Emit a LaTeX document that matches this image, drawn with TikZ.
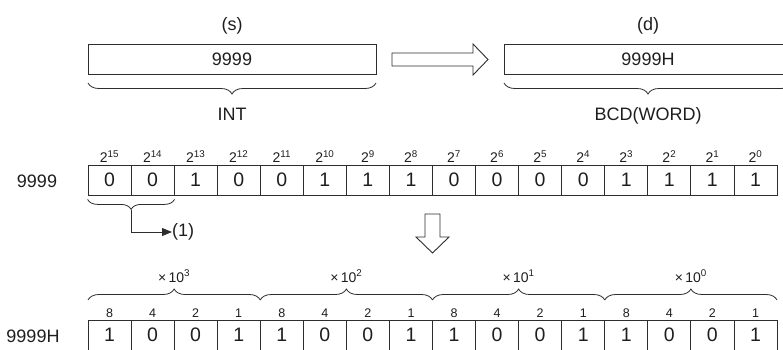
\documentclass[tikz,border=0pt]{standalone}
\usepackage{fontspec}
\setmainfont{Liberation Sans}
\usetikzlibrary{arrows.meta,calc,positioning,decorations.pathreplacing}
\definecolor{lineDark}{HTML}{2D2D2D}
\definecolor{textDark}{HTML}{1E1E1E}
\tikzset{
  bitCell/.style={draw=lineDark,line width=0.8pt,minimum width=43.06pt,minimum height=30pt,inner sep=0pt,font=\fontsize{19.5}{20}\selectfont,text=textDark},
  regBox/.style={draw=lineDark,line width=1pt,minimum width=288pt,minimum height=30pt,inner sep=0pt,font=\fontsize{18}{20}\selectfont,text=textDark},
  bigText/.style={inner sep=0pt,font=\fontsize{18}{20}\selectfont,text=textDark},
  weightText/.style={inner sep=0pt,anchor=base,font=\fontsize{14}{14}\selectfont,text=textDark},
  smallText/.style={inner sep=0pt,anchor=base,font=\fontsize{12.5}{13}\selectfont,text=textDark},
  curly/.style={decorate,decoration={brace,amplitude=#1},draw=lineDark,line width=0.8pt},
  hollow/.style={draw=lineDark,line width=0.9pt,fill=white}
}
\begin{document}
\begin{tikzpicture}[x=1pt,y=-1pt]
\useasboundingbox (0,0) rectangle (783,349);
% source and destination
\node[regBox] (sBox) at (232,59) {9999};
\node[regBox] (dBox) at (648,59) {9999H};
\node[bigText,anchor=base] (sLabel) at (232,30) {(s)};
\node[bigText,anchor=base] (dLabel) at (648,30) {(d)};
\draw[curly=11pt,decoration={mirror}] (88,83) -- (376,83);
\draw[curly=11pt,decoration={mirror}] (504,83) -- (792,83);
\node[bigText,anchor=base] (intLabel) at (232,120) {INT};
\node[bigText,anchor=base] (bcdLabel) at (648,120) {BCD(WORD)};
\draw[hollow] (392,53) -- (473,53) -- (473,44) -- (488,59.5) -- (473,75) -- (473,66) -- (392,66) -- cycle;
% binary row
\node[bigText,anchor=base] (binName) at (37,187) {9999};
\foreach \v [count=\i from 0] in {0,0,1,0,0,1,1,1,0,0,0,0,1,1,1,1}{
  \node[bitCell] (b\i) at ({88+43.0625*(\i+0.5)},180) {\v};
  \pgfmathtruncatemacro{\ex}{15-\i}
  \node[weightText] (w\i) at ($(b\i.north)+(0,-2)$) {2\textsuperscript{\ex}};
}
\draw[curly=10pt,decoration={mirror}] ($(b0.south west)+(0,4)$) -- ($(b1.south east)+(0,4)$);
\coordinate (tipOne) at ($(b0.south west)!0.5!(b1.south east)+(0,15)$);
\node[bigText,anchor=west] (one) at (172,232) {(1)};
\draw[lineDark,line width=0.8pt,-{Triangle[length=10pt,width=8pt]}] (tipOne) |- (one.west);
\draw[hollow] (425,214) -- (440,214) -- (440,237) -- (449,237) -- (432.5,253) -- (416,237) -- (425,237) -- cycle;
% BCD row
\node[bigText,anchor=base] (bcdName) at (33,342) {9999H};
\foreach \v/\w [count=\i from 0] in {1/8,0/4,0/2,1/1,1/8,0/4,0/2,1/1,1/8,0/4,0/2,1/1,1/8,0/4,0/2,1/1}{
  \node[bitCell] (h\i) at ({88+43.0625*(\i+0.5)},335) {\v};
  \node[smallText] (hw\i) at ($(h\i.north)+(0,-2)$) {\w};
}
\foreach \g/\e in {0/3,1/2,2/1,3/0}{
  \draw[curly=11pt] ({88+172.25*\g},300) -- ({88+172.25*(\g+1)},300);
  \node[weightText] (m\e) at ({88+172.25*(\g+0.5)},282) {×\,10\textsuperscript{\e}};
}
\end{tikzpicture}
\end{document}
